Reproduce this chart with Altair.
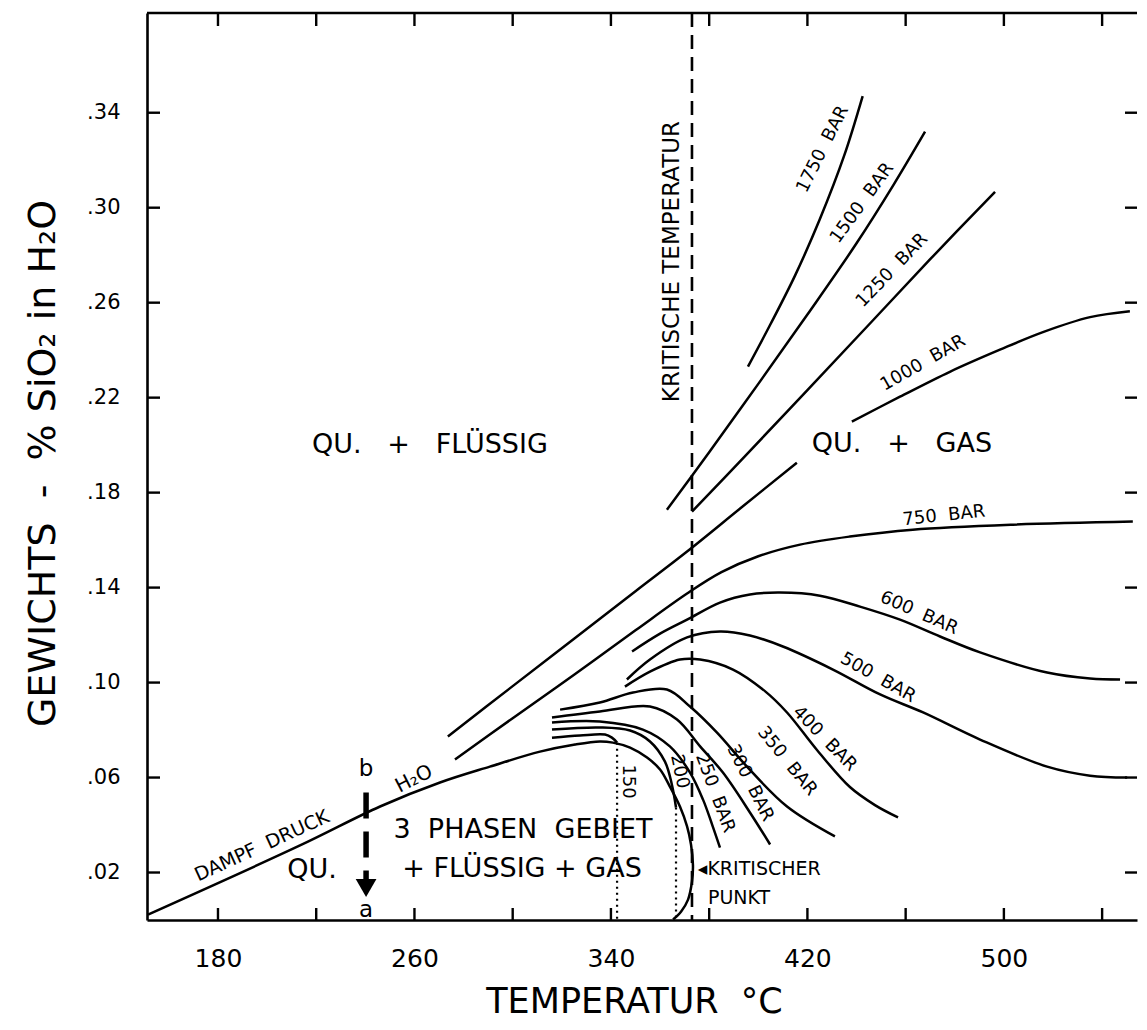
import altair as alt
import pandas as pd

FONT = "DejaVu Sans"
NB = "\u00a0"
W, H = 990, 907
X_DOMAIN = [151.1, 554.2]
Y_DOMAIN = [0.0, 0.382]

# axis values
x_label_values = [180, 260, 340, 420, 500]
x_tick_values = [180, 220, 260, 300, 340, 380, 420, 460, 500, 540]
y_tick_values = [0.02, 0.06, 0.10, 0.14, 0.18, 0.22, 0.26, 0.30, 0.34]

# ---- curves: temperature (deg C) / weight-% SiO2 ----
T_H2O = [151.5, 213.4, 246.0, 270.4, 290.7, 311.1, 325.4, 335.5, 340.8, 347.8, 354.7,
         360.0, 364.0, 368.1, 371.0, 372.6, 373.4, 373.0, 371.4, 368.6, 365.3]
W_H2O = [0.0023, 0.0314, 0.0478, 0.0579, 0.0646, 0.0709, 0.0739, 0.0752, 0.0747, 0.0726, 0.0684,
         0.0634, 0.0562, 0.0478, 0.0394, 0.0318, 0.0230, 0.0162, 0.0086, 0.0036, 0.0002]

T_150 = [316.0, 327.4, 337.6, 340.4, 342.5]
W_150 = [0.0768, 0.0777, 0.0781, 0.0768, 0.0747]

T_200 = [316.0, 335.5, 347.8, 355.9, 362.0, 364.8, 366.5]
W_200 = [0.0802, 0.0811, 0.0798, 0.0752, 0.0667, 0.0571, 0.0474]

T_250 = [316.0, 335.5, 353.0, 364.0, 372.2, 377.5, 381.2, 384.4]
W_250 = [0.0832, 0.0836, 0.0802, 0.0731, 0.0621, 0.0507, 0.0402, 0.0305]

T_300 = [316.0, 335.5, 355.9, 366.9, 376.3, 385.6, 396.6, 404.8]
W_300 = [0.0853, 0.0878, 0.0899, 0.0844, 0.0731, 0.0621, 0.0453, 0.0318]

T_350 = [319.3, 335.5, 349.0, 362.8, 372.2, 383.2, 395.4, 411.7, 431.2]
W_350 = [0.0886, 0.0916, 0.0958, 0.0971, 0.0899, 0.0789, 0.0646, 0.0478, 0.0352]

T_400 = [345.7, 355.9, 368.1, 376.3, 389.7, 402.7, 411.7, 423.9, 437.3, 447.5, 456.9]
W_400 = [0.0983, 0.1046, 0.1097, 0.1097, 0.1055, 0.0964, 0.0874, 0.0716, 0.0560, 0.0484, 0.0432]

T_500 = [346.5, 355.9, 371.0, 384.4, 396.6, 410.0, 430.4, 449.6, 467.1, 490.3, 517.6, 535.1, 550.2]
W_500 = [0.1013, 0.1097, 0.1190, 0.1215, 0.1198, 0.1152, 0.1055, 0.0950, 0.0874, 0.0760, 0.0646, 0.0608, 0.0600]

T_600 = [348.6, 360.0, 371.0, 384.4, 396.6, 408.8, 425.1, 441.4, 457.7, 474.0, 490.3, 517.6, 535.1, 547.3]
W_600 = [0.1131, 0.1206, 0.1265, 0.1337, 0.1371, 0.1379, 0.1366, 0.1320, 0.1265, 0.1194, 0.1127, 0.1042, 0.1017, 0.1013]

T_750 = [276.5, 300.0, 325.0, 350.0, 371.0, 385.0, 400.0, 417.0, 437.3, 462.9, 503.6, 552.5]
W_750 = [0.0676, 0.0850, 0.1033, 0.1220, 0.1375, 0.1465, 0.1532, 0.1581, 0.1615, 0.1644, 0.1665, 0.1678]

T_1000a = [273.6, 300.0, 325.0, 350.0, 371.0, 392.6, 415.7]
W_1000a = [0.0773, 0.0985, 0.1185, 0.1385, 0.1552, 0.1733, 0.1926]
T_1000b = [438.1, 457.7, 478.0, 498.4, 515.9, 535.1, 551.3]
W_1000b = [0.2099, 0.2204, 0.2309, 0.2402, 0.2476, 0.2539, 0.2564]

T_1250 = [373.0, 395.0, 420.0, 445.0, 470.0, 496.4]
W_1250 = [0.1720, 0.1958, 0.2232, 0.2507, 0.2783, 0.3067]

T_1500 = [362.8, 380.0, 400.0, 420.0, 440.0, 455.0, 467.9]
W_1500 = [0.1728, 0.1970, 0.2258, 0.2550, 0.2850, 0.3095, 0.3320]

T_1750 = [395.8, 405.0, 415.0, 425.0, 435.0, 442.5]
W_1750 = [0.2331, 0.2510, 0.2715, 0.2950, 0.3220, 0.3470]

# critical temperature, dotted isobars in the 3-phase field
T_CRIT = [373.0]
T_DOTTED = [342.5, 366.5]
W_DOTTED_TOP = [0.0747, 0.0474]

# path a -> b
T_AB = [240.3]
W_AB_TOP = [0.0537]
W_AB_BOTTOM = [0.0162]
W_AB_HEAD = [0.0135]

# labels
region_text = ["QU." + NB * 3 + "+" + NB * 3 + "FLÜSSIG", "QU." + NB * 3 + "+" + NB * 3 + "GAS",
               "3" + NB * 2 + "PHASEN" + NB * 2 + "GEBIET", "QU.", "+ FLÜSSIG + GAS"]
region_T = [266.3, 458.5, 304.2, 218.3, 303.8]
region_W = [0.200, 0.2006, 0.0381, 0.0209, 0.0213]

BAR = NB * 2 + "BAR"
curve_text = ["250" + BAR, "300" + BAR, "350" + BAR, "400" + BAR, "500" + BAR, "600" + BAR,
              "750" + BAR, "1000" + BAR, "1250" + BAR, "1500" + BAR, "1750" + BAR, "150", "200",
              "DAMPF" + NB * 2 + "DRUCK", "H₂O", "b", "a"]
curve_T = [382.3, 396.6, 411.7, 427.0, 448.7, 465.4, 475.6, 467.1, 454.5, 442.3, 426.3, 346.9, 367.9,
           197.9, 259.8, 240.3, 240.3]
curve_W = [0.0535, 0.0577, 0.0668, 0.0763, 0.1020, 0.1292, 0.1702, 0.2345, 0.2736, 0.3019, 0.3246,
           0.0583, 0.0625, 0.0312, 0.0594, 0.0634, 0.0044]
curve_angle = [69.7, 63.4, 51, 45.7, 29.5, 23.7, 354, 330.3, 313.8, 306, 296.6, 90, 78,
               335.5, 333, 0, 0]
curve_size = [18, 18, 18, 18, 18, 18, 18, 18, 18, 18, 18, 18, 18, 19, 20, 23, 23]

crit_text = ["KRITISCHE TEMPERATUR"]
crit_T = [364.9]
crit_W = [0.2773]

punkt_text = ["◂KRITISCHER", "PUNKT"]
punkt_T = [375.4, 379.5]
punkt_W = [0.0213, 0.0093]

# ---- build tables ----
series = [
    ("H2O", T_H2O, W_H2O), ("150", T_150, W_150), ("200", T_200, W_200),
    ("250", T_250, W_250), ("300", T_300, W_300), ("350", T_350, W_350),
    ("400", T_400, W_400), ("500", T_500, W_500), ("600", T_600, W_600),
    ("750", T_750, W_750), ("1000a", T_1000a, W_1000a), ("1000b", T_1000b, W_1000b),
    ("1250", T_1250, W_1250), ("1500", T_1500, W_1500), ("1750", T_1750, W_1750),
]
rows = []
for name, ts, ws in series:
    for i, (t, w) in enumerate(zip(ts, ws)):
        rows.append({"curve": name, "i": i, "T": t, "w": w})
df_curves = pd.DataFrame(rows)

df_dotted = pd.DataFrame({"T": T_DOTTED, "w": W_DOTTED_TOP, "w0": [0.0] * len(T_DOTTED)})
df_crit = pd.DataFrame({"T": T_CRIT})
df_ab = pd.DataFrame({"T": T_AB, "w": W_AB_TOP, "w2": W_AB_BOTTOM})
df_head = pd.DataFrame({"T": T_AB, "w": W_AB_HEAD})
df_region = pd.DataFrame({"label": region_text, "T": region_T, "w": region_W})
df_clab = pd.DataFrame({"label": curve_text, "T": curve_T, "w": curve_W,
                        "angle": curve_angle, "size": curve_size})
df_critlab = pd.DataFrame({"label": crit_text, "T": crit_T, "w": crit_W})
df_punkt = pd.DataFrame({"label": punkt_text, "T": punkt_T, "w": punkt_W})
df_xt = pd.DataFrame({"T": x_tick_values})
df_yt = pd.DataFrame({"w": y_tick_values})

xscale = alt.Scale(domain=X_DOMAIN, nice=False, zero=False)
yscale = alt.Scale(domain=Y_DOMAIN, nice=False, zero=False)

xaxis = alt.Axis(values=x_label_values, ticks=False, tickSize=0, grid=False,
                 domainColor="black", domainWidth=2.6, labelFontSize=25, labelPadding=26,
                 labelColor="black", labelFont=FONT, format="d", labelFlush=False,
                 title="TEMPERATUR" + NB * 2 + "°C", titleFont=FONT, titleFontSize=35,
                 titleFontWeight="normal", titleColor="black",
                 titleX=487, titleY=99, titleBaseline="bottom")
yaxis = alt.Axis(values=y_tick_values, ticks=False, tickSize=0, grid=False,
                 domainColor="black", domainWidth=2.6, labelFontSize=21, labelPadding=27,
                 labelColor="black", labelFont=FONT,
                 labelExpr="replace(format(datum.value, '.2f'), '0.', '.')",
                 title="GEWICHTS" + NB + " -" + NB + " % SiO₂ in H₂O", titleFont=FONT,
                 titleFontSize=38, titleFontWeight="normal", titleColor="black", titleAngle=270,
                 titleX=-104, titleY=450, titleAlign="center", titleBaseline="middle")


def X(field="T"):
    return alt.X(f"{field}:Q", scale=xscale, axis=xaxis)


def Y(field="w"):
    return alt.Y(f"{field}:Q", scale=yscale, axis=yaxis)


lines = alt.Chart(df_curves).mark_line(color="black", strokeWidth=2.5,
                                       interpolate="catmull-rom").encode(
    x=X(), y=Y(), detail="curve:N", order="i:Q")

crit = alt.Chart(df_crit).mark_rule(color="black", strokeWidth=2.6,
                                    strokeDash=[14, 8]).encode(
    x=X(), y=alt.value(0), y2=alt.value(H))

dotted = alt.Chart(df_dotted).mark_rule(color="black", strokeWidth=2.2,
                                        strokeDash=[2, 4]).encode(
    x=X(), y=Y(), y2="w0:Q")

ab = alt.Chart(df_ab).mark_rule(color="black", strokeWidth=5.5,
                                strokeDash=[26, 13]).encode(
    x=X(), y=Y(), y2="w2:Q")
head = alt.Chart(df_head).mark_point(shape="triangle-down", filled=True, color="black",
                                     opacity=1, size=430).encode(x=X(), y=Y())

regions = alt.Chart(df_region).mark_text(font=FONT, fontSize=27, color="black",
                                         align="center", baseline="middle").encode(
    x=X(), y=Y(), text="label:N")

clabels = alt.Chart(df_clab).mark_text(font=FONT, color="black", align="center",
                                       baseline="middle").encode(
    x=X(), y=Y(), text="label:N",
    angle=alt.Angle("angle:Q", scale=None),
    size=alt.Size("size:Q", scale=None))

critlab = alt.Chart(df_critlab).mark_text(font=FONT, fontSize=23, color="black",
                                          align="center", baseline="middle",
                                          angle=270).encode(
    x=X(), y=Y(), text="label:N")

punkt = alt.Chart(df_punkt).mark_text(font=FONT, fontSize=19, color="black",
                                      align="left", baseline="middle").encode(
    x=X(), y=Y(), text="label:N")

# inward ticks on all four sides and the top border
bottom_ticks = alt.Chart(df_xt).mark_rule(color="black", strokeWidth=2.4).encode(
    x=X(), y=alt.value(H), y2=alt.value(H - 12))
top_ticks = alt.Chart(df_xt).mark_rule(color="black", strokeWidth=2.4).encode(
    x=X(), y=alt.value(0), y2=alt.value(13))
left_ticks = alt.Chart(df_yt).mark_rule(color="black", strokeWidth=2.4).encode(
    y=Y(), x=alt.value(0), x2=alt.value(13))
right_ticks = alt.Chart(df_yt).mark_rule(color="black", strokeWidth=2.4).encode(
    y=Y(), x=alt.value(W - 12), x2=alt.value(W))
top_border = alt.Chart(df_crit).mark_rule(color="black", strokeWidth=2.6).encode(
    x=alt.value(0), x2=alt.value(W), y=alt.value(0))

chart = alt.layer(
    lines, crit, dotted, ab, head, regions, clabels, critlab, punkt,
    bottom_ticks, top_ticks, left_ticks, right_ticks, top_border
).properties(
    width=W, height=H,
    padding={"left": 139, "top": 5, "right": 2, "bottom": 102},
    autosize=alt.AutoSizeParams(type="none"),
    background="white",
).configure_view(stroke=None)

chart.save("out.html", embed_options={"renderer": "svg", "actions": False})
